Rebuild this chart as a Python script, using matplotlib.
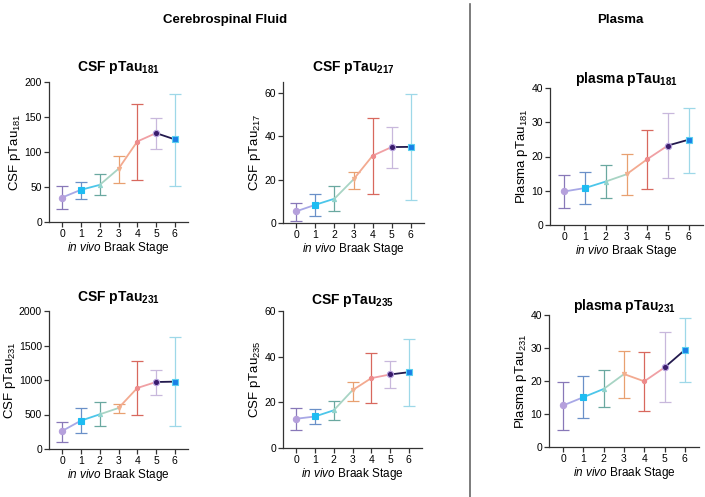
import matplotlib
matplotlib.use("Agg")
import matplotlib.pyplot as plt
from matplotlib.lines import Line2D

plt.rcParams["font.family"] = ["Liberation Sans", "DejaVu Sans"]
plt.rcParams["mathtext.fontset"] = "custom"
plt.rcParams["mathtext.rm"] = "Liberation Sans"
plt.rcParams["mathtext.it"] = "Liberation Sans:italic"
plt.rcParams["mathtext.bf"] = "Liberation Sans:bold"

stages = [0, 1, 2, 3, 4, 5, 6]

# medians and error-bar ends
csf181_mid = [35, 46, 53, 76, 115, 127, 118]
csf181_lo = [18, 33, 38, 56, 60, 104, 52]
csf181_hi = [51, 57, 68, 94, 169, 149, 183]

csf217_mid = [5.4, 8.4, 11.2, 20.1, 31.0, 35.0, 35.1]
csf217_lo = [1.1, 3.4, 5.7, 15.7, 13.3, 25.5, 10.7]
csf217_hi = [9.4, 13.4, 17.0, 23.6, 48.5, 44.2, 59.6]

pl181_mid = [9.8, 10.8, 12.7, 14.8, 19.2, 23.2, 24.9]
pl181_lo = [5.1, 6.0, 8.0, 8.7, 10.5, 13.8, 15.3]
pl181_hi = [14.5, 15.5, 17.4, 20.6, 27.8, 32.6, 34.3]

csf231_mid = [261, 411, 502, 594, 884, 971, 976]
csf231_lo = [106, 237, 338, 517, 488, 787, 328]
csf231_hi = [396, 589, 676, 652, 1275, 1150, 1623]

csf235_mid = [12.8, 13.8, 16.5, 25.3, 30.6, 32.2, 33.2]
csf235_lo = [7.9, 10.6, 12.2, 20.5, 19.5, 26.2, 18.6]
csf235_hi = [17.5, 17.0, 20.7, 29.1, 41.6, 38.3, 47.6]

pl231_mid = [12.6, 15.1, 17.6, 22.1, 19.9, 24.1, 29.4]
pl231_lo = [5.3, 8.7, 12.2, 14.7, 10.9, 13.5, 19.8]
pl231_hi = [19.8, 21.6, 23.2, 29.1, 28.9, 34.9, 39.0]

marker_colors = ["#b5a0dc", "#1ebcf2", "#92d4cc", "#f2b08e", "#ee8c8c", "#3a1c6c", "#1a80e6"]
marker_edges = ["#b5a0dc", "#1ebcf2", "#92d4cc", "#f2b08e", "#ee8c8c", "#b5a0dc", "#5ad0f0"]
markers = ["o", "s", "^", "v", "o", "o", "s"]
marker_sizes = [4.5, 4.5, 3, 3, 3, 4.5, 5]
err_colors = ["#8878b8", "#6a90c8", "#6aa8a0", "#e8a070", "#d8685e", "#c8b8dc", "#9ed8e8"]
seg_colors = ["#a8a8e6", "#4cc6ea", "#a8d4c4", "#f3aa90", "#f0a0a4", "#231a4e"]

fig = plt.figure(figsize=(7.05, 4.97), dpi=100)
W, H = 705, 497


def add_axes(x0, x1, ytop, ybot):
    return fig.add_axes([x0 / W, 1 - ybot / H, (x1 - x0) / W, (ybot - ytop) / H])


def draw(ax, mid, lo, hi, ylim, yticks, title, ylabel, tpad):
    for i in range(len(stages) - 1):
        ax.plot(stages[i:i + 2], mid[i:i + 2], color=seg_colors[i], lw=1.3, zorder=2)
    for i, s in enumerate(stages):
        ax.errorbar([s], [mid[i]], yerr=[[mid[i] - lo[i]], [hi[i] - mid[i]]],
                    fmt="none", ecolor=err_colors[i], elinewidth=0.9, capsize=4,
                    capthick=0.9, zorder=1)
        ax.plot([s], [mid[i]], marker=markers[i], ms=marker_sizes[i],
                color=marker_colors[i], mec=marker_edges[i], mew=0.8, zorder=3)
    ax.set_xlim(-0.7, 6.7)
    ax.set_ylim(*ylim)
    ax.set_xticks(stages)
    ax.set_yticks(yticks)
    for sp in ["top", "right"]:
        ax.spines[sp].set_visible(False)
    for sp in ["left", "bottom"]:
        ax.spines[sp].set_color("#333333")
        ax.spines[sp].set_linewidth(0.9)
    ax.tick_params(labelsize=7.5, length=3.5, width=0.9, color="#333333", pad=1.5)
    ax.set_title(title, fontsize=10, fontweight="bold", pad=tpad)
    ax.set_ylabel(ylabel, fontsize=9.5, labelpad=1)
    ax.set_xlabel(r"$\it{in\ vivo}$ Braak Stage", fontsize=8.5, labelpad=1)


ax1 = add_axes(49, 188, 82, 222)
draw(ax1, csf181_mid, csf181_lo, csf181_hi, (0, 200), [0, 50, 100, 150, 200],
     r"CSF pTau$_{\mathbf{181}}$", r"CSF pTau$_{181}$", 8)

ax2 = add_axes(283, 424, 82, 223)
draw(ax2, csf217_mid, csf217_lo, csf217_hi, (0, 65), [0, 20, 40, 60],
     r"CSF pTau$_{\mathbf{217}}$", r"CSF pTau$_{217}$", 8)

ax3 = add_axes(550, 703, 88, 225)
draw(ax3, pl181_mid, pl181_lo, pl181_hi, (0, 40), [0, 10, 20, 30, 40],
     r"plasma pTau$_{\mathbf{181}}$", r"Plasma pTau$_{181}$", 3)

ax4 = add_axes(49, 188, 311, 449)
draw(ax4, csf231_mid, csf231_lo, csf231_hi, (0, 2000), [0, 500, 1000, 1500, 2000],
     r"CSF pTau$_{\mathbf{231}}$", r"CSF pTau$_{231}$", 7)

ax5 = add_axes(283, 422, 311, 448)
draw(ax5, csf235_mid, csf235_lo, csf235_hi, (0, 60), [0, 20, 40, 60],
     r"CSF pTau$_{\mathbf{235}}$", r"CSF pTau$_{235}$", 5)

ax6 = add_axes(549, 699, 315, 447)
draw(ax6, pl231_mid, pl231_lo, pl231_hi, (0, 40), [0, 10, 20, 30, 40],
     r"plasma pTau$_{\mathbf{231}}$", r"Plasma pTau$_{231}$", 3)

fig.text(225 / W, 1 - 20 / H, "Cerebrospinal Fluid", ha="center", va="center",
         fontsize=9.5, fontweight="bold")
fig.text(620 / W, 1 - 20 / H, "Plasma", ha="center", va="center",
         fontsize=9.5, fontweight="bold")
fig.add_artist(Line2D([470 / W, 470 / W], [1 - 4 / H, 0], color="#666666", lw=1.2))

fig.savefig("out.png", dpi=100)
